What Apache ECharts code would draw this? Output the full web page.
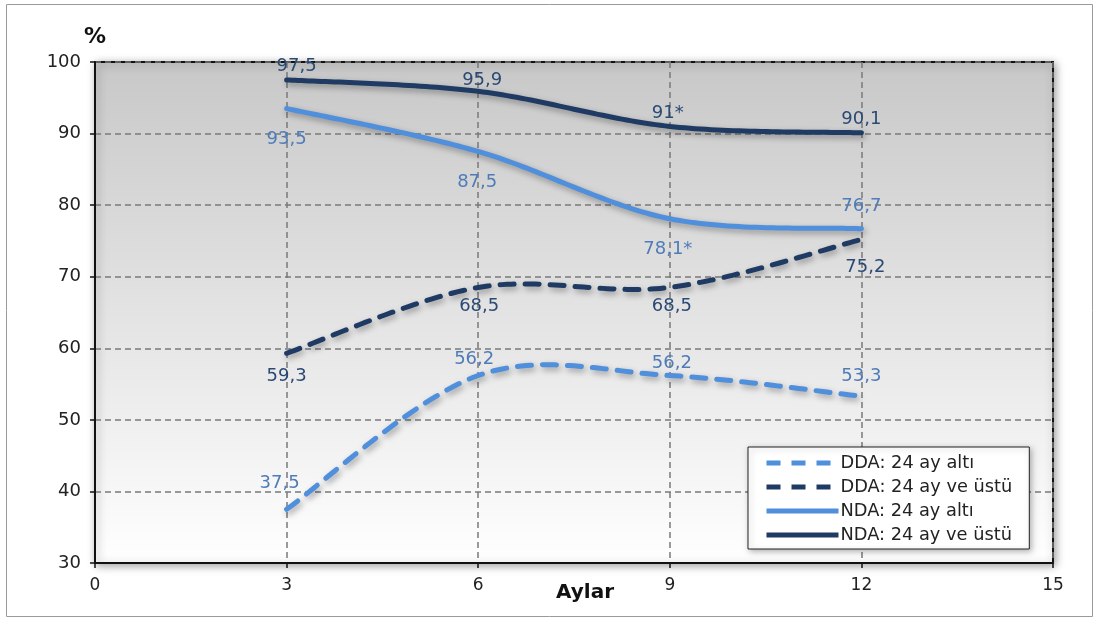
<!DOCTYPE html>
<html>
<head>
<meta charset="utf-8">
<script src="https://cdn.jsdelivr.net/npm/echarts@6/dist/echarts.min.js"></script>
<style>
  html, body { margin: 0; padding: 0; background: #ffffff; }
  #chart { width: 1099px; height: 621px; }
</style>
</head>
<body>
<div id="chart"></div>
<script>
// Months of follow-up
const months = [3, 6, 9, 12];

// Percentages per group
const ddaUnder24 = [37.5, 56.2, 56.2, 53.3];
const ddaOver24 = [59.3, 68.5, 68.5, 75.2];
const ndaUnder24 = [93.5, 87.5, 78.1, 76.7];
const ndaOver24 = [97.5, 95.9, 91, 90.1];

// Points marked with an asterisk
const ndaUnder24Marked = [false, false, true, false];
const ndaOver24Marked = [false, false, true, false];

// Series names
const seriesNames = [
  'DDA: 24 ay altı',
  'DDA: 24 ay ve üstü',
  'NDA: 24 ay altı',
  'NDA: 24 ay ve üstü'
];

// Axis ticks
const xTicks = [0, 3, 6, 9, 12, 15];
const yTicks = [30, 40, 50, 60, 70, 80, 90, 100];

const FONT = 'DejaVu Sans, Verdana, sans-serif';
const LIGHT = '#4f8fdc';
const DARK = '#1f3b63';
const LIGHT_TEXT = '#4f7cb8';
const DARK_TEXT = '#2b4a73';
const LINE_W = 5;
const DASH = [14, 11];

// Label placement for each point: [side, distance, dx]
const placeDdaUnder = [['top', 17, -7], ['top', 7, -4], ['top', 3, 2], ['top', 11, 0]];
const placeDdaOver = [['bottom', 14, 0], ['bottom', 10, 1], ['bottom', 10, 2], ['bottom', 19, 4]];
const placeNdaUnder = [['bottom', 22, 0], ['bottom', 22, -1], ['bottom', 22, -2], ['top', 13, 0]];
const placeNdaOver = [['top', 5, 10], ['top', 2, 4], ['top', 4, -2], ['top', 5, 0]];

function fmt(v, marked) {
  return String(v).replace('.', ',') + (marked ? '*' : '');
}

function buildData(values, place, marked, textColor) {
  return values.map((v, i) => ({
    value: [months[i], v],
    label: {
      show: true,
      position: place[i][0],
      distance: place[i][1],
      offset: [place[i][2], 0],
      formatter: fmt(v, marked ? marked[i] : false),
      color: textColor,
      fontSize: 18,
      fontFamily: FONT
    }
  }));
}

// Line series: carries the legend entry and the value labels; the curve itself
// is drawn by the matching custom series below.
function labelSeries(name, values, place, marked, color, textColor, dashed) {
  return {
    name: name,
    type: 'line',
    symbol: 'circle',
    symbolSize: 0,
    data: buildData(values, place, marked, textColor),
    lineStyle: {
      color: color,
      width: LINE_W,
      type: dashed ? DASH : 'solid',
      opacity: 0
    },
    itemStyle: { color: color },
    emphasis: { disabled: true },
    z: 4
  };
}

// Smooth curve through the points (cubic Bezier with Catmull-Rom style
// control points), converted to pixels through the chart's axes.
function curveSeries(name, values, color, dashed) {
  return {
    name: name,
    type: 'custom',
    data: values.map((v, i) => [months[i], v]),
    encode: { x: 0, y: 1 },
    silent: true,
    z: 3,
    renderItem: function (params, api) {
      if (params.dataIndex !== 0) return null;
      const p = values.map((v, i) => api.coord([months[i], v]));
      const pts = [];
      const steps = 40;
      for (let i = 0; i < p.length - 1; i++) {
        const p0 = p[Math.max(i - 1, 0)];
        const p1 = p[i];
        const p2 = p[i + 1];
        const p3 = p[Math.min(i + 2, p.length - 1)];
        const c1 = [p1[0] + (p2[0] - p0[0]) / 6, p1[1] + (p2[1] - p0[1]) / 6];
        const c2 = [p2[0] - (p3[0] - p1[0]) / 6, p2[1] - (p3[1] - p1[1]) / 6];
        for (let s = (i === 0 ? 0 : 1); s <= steps; s++) {
          const t = s / steps, u = 1 - t;
          pts.push([
            u * u * u * p1[0] + 3 * u * u * t * c1[0] + 3 * u * t * t * c2[0] + t * t * t * p2[0],
            u * u * u * p1[1] + 3 * u * u * t * c1[1] + 3 * u * t * t * c2[1] + t * t * t * p2[1]
          ]);
        }
      }
      return {
        type: 'polyline',
        shape: { points: pts },
        style: {
          fill: null,
          stroke: color,
          lineWidth: LINE_W,
          lineDash: dashed ? DASH : null,
          lineCap: 'round',
          lineJoin: 'round',
          shadowColor: 'rgba(0,0,0,0.35)',
          shadowBlur: 6,
          shadowOffsetX: 2,
          shadowOffsetY: 3
        }
      };
    }
  };
}

const chart = echarts.init(document.getElementById('chart'), null, { renderer: 'canvas' });

const option = {
  animation: false,
  backgroundColor: '#ffffff',
  graphic: [
    {
      type: 'rect',
      shape: { x: 6.5, y: 4.5, width: 1086, height: 612 },
      style: { fill: 'none', stroke: '#9a9a9a', lineWidth: 1 },
      silent: true,
      z: -1
    }
  ],
  grid: {
    left: 95,
    top: 62,
    width: 958,
    height: 501,
    show: true,
    borderColor: '#111111',
    borderWidth: 2,
    backgroundColor: new echarts.graphic.LinearGradient(0, 0, 0, 1, [
      { offset: 0, color: '#c8c8c8' },
      { offset: 0.55, color: '#e6e6e6' },
      { offset: 1, color: '#ffffff' }
    ]),
    shadowColor: 'rgba(0,0,0,0.35)',
    shadowBlur: 8,
    shadowOffsetX: 2,
    shadowOffsetY: 2
  },
  legend: {
    orient: 'vertical',
    left: 748,
    top: 447,
    padding: [6, 17, 4, 16],
    itemWidth: 72,
    itemHeight: 15,
    itemGap: 4,
    backgroundColor: '#ffffff',
    borderColor: '#222222',
    borderWidth: 1,
    shadowColor: 'rgba(0,0,0,0.3)',
    shadowBlur: 6,
    shadowOffsetX: 2,
    shadowOffsetY: 2,
    itemStyle: { opacity: 0 },
    lineStyle: { width: LINE_W, opacity: 1 },
    textStyle: {
      fontSize: 17.8,
      lineHeight: 20,
      color: '#222222',
      fontFamily: FONT,
      padding: [0, 0, 0, -3]
    },
    data: seriesNames
  },
  xAxis: {
    type: 'value',
    min: xTicks[0],
    max: xTicks[xTicks.length - 1],
    interval: 3,
    name: 'Aylar',
    nameLocation: 'middle',
    nameGap: 20,
    nameMoveOverlap: false,
    nameTextStyle: {
      fontSize: 20,
      fontWeight: 'bold',
      color: '#111111',
      fontFamily: FONT,
      padding: [0, 0, 0, 22]
    },
    axisLine: { lineStyle: { color: '#111111', width: 2 } },
    axisTick: { show: true, length: 5, lineStyle: { color: '#111111', width: 1.5 } },
    axisLabel: {
      fontSize: 17,
      color: '#222222',
      margin: 14,
      fontFamily: FONT
    },
    splitLine: {
      show: true,
      lineStyle: { color: '#7a7a7a', width: 1.5, type: [6, 4] }
    }
  },
  yAxis: {
    type: 'value',
    min: yTicks[0],
    max: yTicks[yTicks.length - 1],
    interval: 10,
    name: '%',
    nameLocation: 'end',
    nameGap: 14,
    nameTextStyle: {
      fontSize: 22,
      fontWeight: 'bold',
      color: '#111111',
      fontFamily: FONT,
      align: 'center'
    },
    axisLine: { show: true, lineStyle: { color: '#111111', width: 2 } },
    axisTick: { show: true, length: 5, lineStyle: { color: '#111111', width: 1.5 } },
    axisLabel: {
      fontSize: 18,
      color: '#222222',
      margin: 14,
      fontFamily: FONT
    },
    splitLine: {
      show: true,
      lineStyle: { color: '#7a7a7a', width: 1.5, type: [6, 4] }
    }
  },
  series: [
    labelSeries(seriesNames[0], ddaUnder24, placeDdaUnder, null, LIGHT, LIGHT_TEXT, true),
    labelSeries(seriesNames[1], ddaOver24, placeDdaOver, null, DARK, DARK_TEXT, true),
    labelSeries(seriesNames[2], ndaUnder24, placeNdaUnder, ndaUnder24Marked, LIGHT, LIGHT_TEXT, false),
    labelSeries(seriesNames[3], ndaOver24, placeNdaOver, ndaOver24Marked, DARK, DARK_TEXT, false),
    curveSeries('DDA altı eğrisi', ddaUnder24, LIGHT, true),
    curveSeries('DDA üstü eğrisi', ddaOver24, DARK, true),
    curveSeries('NDA altı eğrisi', ndaUnder24, LIGHT, false),
    curveSeries('NDA üstü eğrisi', ndaOver24, DARK, false)
  ]
};

chart.setOption(option);
</script>
</body>
</html>
